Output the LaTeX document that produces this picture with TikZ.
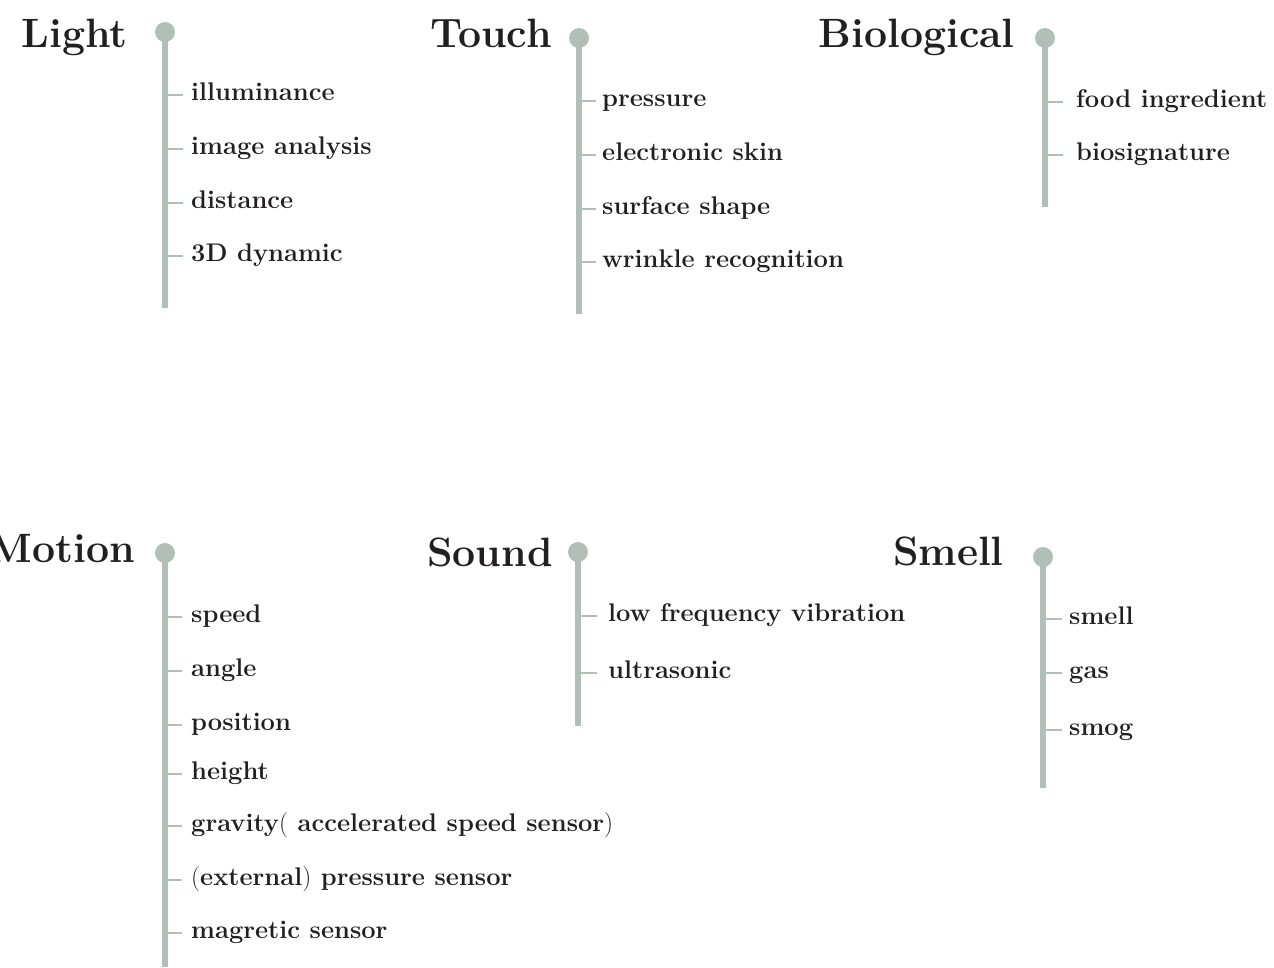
\documentclass[tikz,border=0pt]{standalone}
\usepackage{fontspec}
\setmainfont{Latin Modern Roman}
\definecolor{ink}{RGB}{35,31,32}
\definecolor{sage}{RGB}{178,190,184}
\tikzset{
  title/.style={anchor=base east, inner sep=0pt, text=ink, font=\fontsize{41}{47}\selectfont\bfseries},
  item/.style={anchor=west, inner sep=0pt, text height=15pt, text depth=5pt, text=ink, font=\fontsize{25.5}{30}\selectfont\bfseries},
  knob/.style={circle, fill=sage, minimum size=20pt, inner sep=0pt},
  stem/.style={draw=sage, line width=5.5pt},
  twig/.style={draw=sage, line width=2.5pt},
}
\newcommand{\paren}[1]{{\mdseries #1}}
\begin{document}
\begin{tikzpicture}[x=1pt,y=-1pt]
\useasboundingbox (0,0) rectangle (1274,967);

% ---------- Light ----------
\node[title] (tLight) at (128,47) {Light};
\node[knob] (kLight) at (165,32) {};
\coordinate (eLight) at (165,308);
\draw[stem] (kLight.center) -- (eLight);
\node[item] (l1) at (191,95) {illuminance};
\node[item] (l2) at (191,149) {image analysis};
\node[item] (l3) at (191,203) {distance};
\node[item] (l4) at (191,256) {3D dynamic};
\foreach \n in {l1,l2,l3,l4}
  \draw[twig] (kLight |- \n.west) -- ([xshift=-8pt]\n.west);

% ---------- Touch ----------
\node[title] (tTouch) at (552,47) {Touch};
\node[knob] (kTouch) at (579,38) {};
\coordinate (eTouch) at (579,314);
\draw[stem] (kTouch.center) -- (eTouch);
\node[item] (t1) at (602,101) {pressure};
\node[item] (t2) at (602,155) {electronic skin};
\node[item] (t3) at (602,209) {surface shape};
\node[item] (t4) at (602,262) {wrinkle recognition};
\foreach \n in {t1,t2,t3,t4}
  \draw[twig] (kTouch |- \n.west) -- ([xshift=-6pt]\n.west);

% ---------- Biological ----------
\node[title] (tBio) at (1015,47) {Biological};
\node[knob] (kBio) at (1045,38) {};
\coordinate (eBio) at (1045,207);
\draw[stem] (kBio.center) -- (eBio);
\node[item] (b1) at (1076,102) {food ingredient};
\node[item] (b2) at (1076,155) {biosignature};
\foreach \n in {b1,b2}
  \draw[twig] (kBio |- \n.west) -- ([xshift=-13pt]\n.west);

% ---------- Motion ----------
\node[title] (tMotion) at (135,562) {Motion};
\node[knob] (kMotion) at (165,553) {};
\coordinate (eMotion) at (165,967);
\draw[stem] (kMotion.center) -- (eMotion);
\node[item] (m1) at (191,617) {speed};
\node[item] (m2) at (191,671) {angle};
\node[item] (m3) at (191,725) {position};
\node[item] (m4) at (191,774) {height};
\node[item] (m5) at (191,826) {gravity\paren{(} accelerated speed sensor\paren{)}};
\node[item] (m6) at (191,880) {\paren{(}external\paren{)} pressure sensor};
\node[item] (m7) at (191,933) {magretic sensor};
\foreach \n in {m1,m2,m3,m4,m5,m6,m7}
  \draw[twig] (kMotion |- \n.west) -- ([xshift=-9pt]\n.west);

% ---------- Sound ----------
\node[title] (tSound) at (553,566) {Sound};
\node[knob] (kSound) at (578,552) {};
\coordinate (eSound) at (578,726);
\draw[stem] (kSound.center) -- (eSound);
\node[item] (s1) at (608,616) {low frequency vibration};
\node[item] (s2) at (608,673) {ultrasonic};
\foreach \n in {s1,s2}
  \draw[twig] (kSound |- \n.west) -- ([xshift=-11pt]\n.west);

% ---------- Smell ----------
\node[title] (tSmell) at (1004,565) {Smell};
\node[knob] (kSmell) at (1043,557) {};
\coordinate (eSmell) at (1043,788);
\draw[stem] (kSmell.center) -- (eSmell);
\node[item] (o1) at (1069,619) {smell};
\node[item] (o2) at (1069,673) {gas};
\node[item] (o3) at (1069,730) {smog};
\foreach \n in {o1,o2,o3}
  \draw[twig] (kSmell |- \n.west) -- ([xshift=-7pt]\n.west);
\end{tikzpicture}
\end{document}
